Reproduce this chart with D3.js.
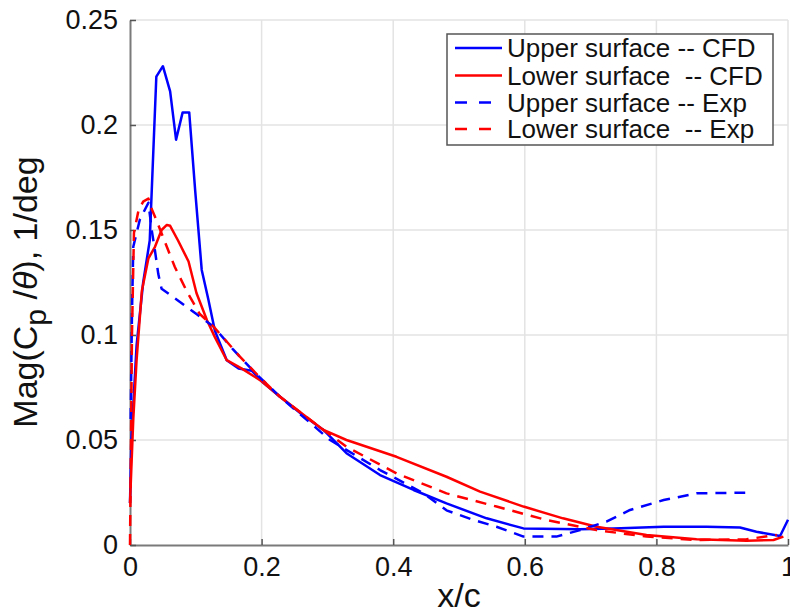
<!DOCTYPE html>
<html>
<head>
<meta charset="utf-8">
<script src="https://cdn.jsdelivr.net/npm/d3@7/dist/d3.min.js"></script>
<style>
body { margin: 0; background: #fff; }
text { font-family: "Liberation Sans", Arial, sans-serif; fill: #111; }
</style>
</head>
<body>
<svg id="chart" width="790" height="611"></svg>
<script>
// values
var upperCfdX = [0, 0.002, 0.01, 0.02, 0.03, 0.04, 0.05, 0.061, 0.07, 0.08, 0.09, 0.099, 0.109, 0.119, 0.129, 0.147, 0.165, 0.185, 0.2, 0.228, 0.262, 0.294, 0.329, 0.38, 0.431, 0.481, 0.542, 0.598, 0.684, 0.735, 0.811, 0.876, 0.927, 0.952, 0.988, 1.0]
var upperCfdY = [0.02, 0.05, 0.095, 0.125, 0.145, 0.223, 0.228, 0.216, 0.193, 0.206, 0.206, 0.169, 0.131, 0.117, 0.102, 0.088, 0.084, 0.083, 0.078, 0.0706, 0.062, 0.0548, 0.0437, 0.0333, 0.0262, 0.0198, 0.0127, 0.0079, 0.0075, 0.0079, 0.0087, 0.0087, 0.0083, 0.0063, 0.0043, 0.012]

var lowerCfdX = [0, 0.005, 0.01, 0.018, 0.028, 0.038, 0.048, 0.056, 0.061, 0.073, 0.089, 0.101, 0.117, 0.129, 0.147, 0.17, 0.2, 0.228, 0.294, 0.329, 0.405, 0.481, 0.532, 0.598, 0.658, 0.709, 0.785, 0.861, 0.937, 0.978, 0.993]
var lowerCfdY = [0.02, 0.06, 0.088, 0.121, 0.1365, 0.142, 0.15, 0.1524, 0.152, 0.145, 0.135, 0.12, 0.107, 0.099, 0.088, 0.084, 0.078, 0.0706, 0.0548, 0.05, 0.042, 0.0325, 0.0254, 0.0183, 0.0127, 0.0087, 0.0048, 0.0027, 0.002, 0.0024, 0.004]

var upperExpX = [0.001, 0.003, 0.005, 0.015, 0.028, 0.033, 0.038, 0.043, 0.048, 0.066, 0.101, 0.127, 0.157, 0.19, 0.228, 0.304, 0.38, 0.446, 0.481, 0.522, 0.557, 0.598, 0.648, 0.684, 0.724, 0.76, 0.811, 0.861, 0.935]
var upperExpY = [0.06, 0.11, 0.142, 0.155, 0.163, 0.15, 0.14, 0.129, 0.122, 0.118, 0.11, 0.104, 0.093, 0.082, 0.0706, 0.05, 0.0357, 0.0246, 0.0165, 0.0119, 0.0087, 0.004, 0.004, 0.0071, 0.0111, 0.0167, 0.0214, 0.0246, 0.0249]

var lowerExpX = [0, 0.003, 0.006, 0.013, 0.02, 0.028, 0.033, 0.041, 0.051, 0.068, 0.086, 0.106, 0.127, 0.167, 0.2, 0.228, 0.294, 0.329, 0.405, 0.481, 0.557, 0.633, 0.709, 0.785, 0.861, 0.937, 0.983]
var lowerExpY = [0, 0.1, 0.1486, 0.1595, 0.1635, 0.165, 0.16, 0.154, 0.146, 0.1325, 0.121, 0.11, 0.104, 0.0897, 0.079, 0.0706, 0.0548, 0.0468, 0.0341, 0.0246, 0.0183, 0.0119, 0.0071, 0.004, 0.0024, 0.0027, 0.0048]

var xTicks = [0, 0.2, 0.4, 0.6, 0.8, 1]
var yTicks = [0, 0.05, 0.1, 0.15, 0.2, 0.25]
var legendNames = ['Upper surface -- CFD', 'Lower surface  -- CFD', 'Upper surface -- Exp', 'Lower surface  -- Exp']

var series = [
    { name: legendNames[0], xs: upperCfdX, ys: upperCfdY, color: '#0000ff', dash: null },
    { name: legendNames[1], xs: lowerCfdX, ys: lowerCfdY, color: '#ff0000', dash: null },
    { name: legendNames[2], xs: upperExpX, ys: upperExpY, color: '#0000ff', dash: '11,8' },
    { name: legendNames[3], xs: lowerExpX, ys: lowerExpY, color: '#ff0000', dash: '11,8' }
]

var svg = d3.select('#chart')
var plotLeft = 130, plotRight = 788, plotTop = 20, plotBottom = 545

var xScale = d3.scaleLinear().domain([0, 1]).range([plotLeft, plotRight])
var yScale = d3.scaleLinear().domain([0, 0.25]).range([plotBottom, plotTop])

// grid
var gridG = svg.append('g').attr('stroke', '#e3e3e3').attr('stroke-width', 1.5)
xTicks.filter(d => d > 0).forEach(function (t) {
    gridG.append('line')
        .attr('x1', xScale(t)).attr('x2', xScale(t))
        .attr('y1', yScale(0)).attr('y2', yScale(0.25))
})
yTicks.filter(d => d > 0).forEach(function (t) {
    gridG.append('line')
        .attr('x1', xScale(0)).attr('x2', xScale(1))
        .attr('y1', yScale(t)).attr('y2', yScale(t))
})

// axes
var xAxis = d3.axisBottom(xScale).tickValues(xTicks).tickFormat(d => String(d))
    .tickSizeInner(-6).tickSizeOuter(0).tickPadding(12)
var yAxis = d3.axisLeft(yScale).tickValues(yTicks).tickFormat(d => String(d))
    .tickSizeInner(-6).tickSizeOuter(0).tickPadding(12)

var xG = svg.append('g').attr('transform', `translate(0, ${plotBottom})`).call(xAxis)
var yG = svg.append('g').attr('transform', `translate(${plotLeft}, 0)`).call(yAxis)
;[xG, yG].forEach(function (g) {
    g.attr('font-family', null).attr('font-size', null)
    g.select('.domain').attr('stroke', '#7a7a7a').attr('stroke-width', 2)
    g.selectAll('.tick line').attr('stroke', '#555').attr('stroke-width', 1.5)
    g.selectAll('.tick text').style('font-size', '27px').attr('fill', '#111')
})

// curves
var line = d3.line().x(d => xScale(d[0])).y(d => yScale(d[1]))
series.forEach(function (s) {
    var pts = s.xs.map((x, i) => [x, s.ys[i]])
    svg.append('path')
        .datum(pts)
        .attr('d', line)
        .attr('fill', 'none')
        .attr('stroke', s.color)
        .attr('stroke-width', 2.5)
        .attr('stroke-dasharray', s.dash)
        .attr('stroke-linejoin', 'round')
})

// axis labels
svg.append('text')
    .attr('x', (plotLeft + plotRight) / 2).attr('y', 607)
    .attr('text-anchor', 'middle')
    .style('font-size', '34px')
    .text('x/c')

var yLabel = svg.append('text')
    .attr('transform', 'translate(37, 292) rotate(-90)')
    .attr('text-anchor', 'middle')
    .style('font-size', '34px')
yLabel.append('tspan').text('Mag(C')
yLabel.append('tspan').attr('dy', 9).style('font-size', '30px').text('p')
yLabel.append('tspan').attr('dy', -9).style('white-space', 'pre').text(' /')
yLabel.append('tspan').style('font-style', 'italic').text('θ')
yLabel.append('tspan').text('), 1/deg')

// legend
var legendG = svg.append('g')
legendG.append('rect')
    .attr('x', 447).attr('y', 34).attr('width', 326).attr('height', 111)
    .attr('fill', '#fff').attr('stroke', '#555').attr('stroke-width', 1.5)
var rowY = [48, 75.5, 102.5, 129]
series.forEach(function (s, i) {
    legendG.append('line')
        .attr('x1', 455).attr('x2', 502)
        .attr('y1', rowY[i]).attr('y2', rowY[i])
        .attr('stroke', s.color).attr('stroke-width', 2.5)
        .attr('stroke-dasharray', s.dash ? '12,12' : null)
    legendG.append('text')
        .attr('x', 507).attr('y', rowY[i] + 9.3)
        .style('font-size', '26px')
        .style('white-space', 'pre')
        .text(s.name)
})
</script>
</body>
</html>
